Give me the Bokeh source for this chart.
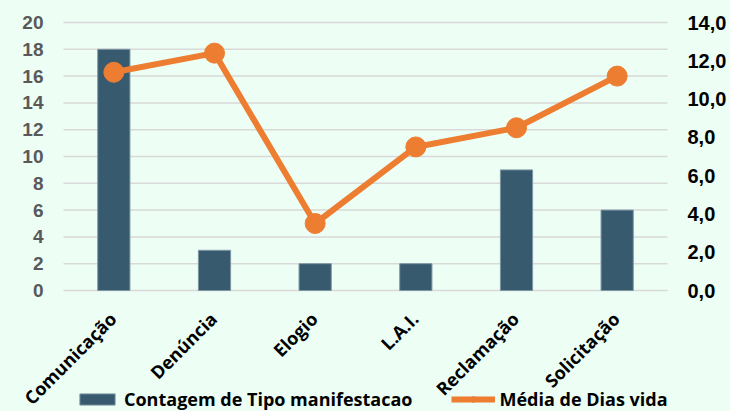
import math
from bokeh.plotting import figure
from bokeh.models import ColumnDataSource, Range1d, Legend, LegendItem
from bokeh.core.properties import value
from bokeh.embed import file_html
from bokeh.resources import INLINE

# ---- data ----
categorias = ["Comunicação", "Denúncia", "Elogio", "L.A.I.", "Reclamação", "Solicitação"]
contagem = [18, 3, 2, 2, 9, 6]
media_dias = [11.4, 12.4, 3.5, 7.5, 8.5, 11.2]
left_ticks = [0, 2, 4, 6, 8, 10, 12, 14, 16, 18, 20]
left_tick_labels = ["0", "2", "4", "6", "8", "10", "12", "14", "16", "18", "20"]
right_ticks = [0, 2, 4, 6, 8, 10, 12, 14]
right_tick_labels = ["0,0", "2,0", "4,0", "6,0", "8,0", "10,0", "12,0", "14,0"]
serie_barras = "Contagem de Tipo manifestacao"
serie_linha = "Média de Dias vida"

BG = "#EDFEF4"
BAR = "#375A6F"
ORANGE = "#ED7D31"
GRID = "#D9D9D9"

# ---- layout (pixels) ----
W, H = 730, 411
PLOT_L, PLOT_R = 63, 667      # category band
TOP, ZERO = 22, 290           # top value line / zero line
left_max, right_max = 20, 14
n = len(categorias)
ux = (PLOT_R - PLOT_L) / n
xs = list(range(n))
x_lo, x_hi = -0.5, n - 0.5
uy_l = (ZERO - TOP) / left_max
uy_r = (ZERO - TOP) / right_max

src = ColumnDataSource(dict(x=xs, cat=categorias, cnt=contagem, dias=media_dias,
                            base=[0] * n))

p = figure(width=W, height=H,
           x_range=Range1d(x_lo - PLOT_L / ux, x_hi + (W - PLOT_R) / ux),
           y_range=Range1d(-(H - ZERO) / uy_l, left_max + TOP / uy_l),
           x_axis_type=None, y_axis_type=None,
           output_backend="svg", toolbar_location=None,
           min_border_left=0, min_border_right=0, min_border_top=0,
           min_border_bottom=0)
p.extra_y_ranges = {"right": Range1d(-(H - ZERO) / uy_r, right_max + TOP / uy_r)}
p.background_fill_color = BG
p.border_fill_color = BG
p.outline_line_color = None
p.grid.visible = False

# gridlines at the left-axis ticks
p.segment(x0=[x_lo] * len(left_ticks), x1=[x_hi] * len(left_ticks),
          y0=left_ticks, y1=left_ticks, line_color=GRID, line_width=1.5)

bars = p.vbar(x="x", top="cnt", bottom=0, width=0.32, source=src,
              fill_color=BAR, line_color="#7F96A3", line_width=1)
line = p.line(x="x", y="dias", source=src, y_range_name="right",
              line_color=ORANGE, line_width=6)
pts = p.scatter(x="x", y="dias", source=src, y_range_name="right",
                size=20, fill_color=ORANGE, line_color=ORANGE)

# left tick labels
p.text(x=[x_lo] * len(left_ticks), y=left_ticks, text=left_tick_labels,
       x_offset=-20, text_align="right", text_baseline="middle",
       text_font=value("Liberation Sans"), text_font_style="bold",
       text_font_size="19px", text_color="#595959")
# right tick labels
p.text(x=[x_hi] * len(right_ticks), y=right_ticks, text=right_tick_labels,
       y_range_name="right", x_offset=20, text_align="left",
       text_baseline="middle", text_font=value("Liberation Sans"),
       text_font_style="bold", text_font_size="20px", text_color="#000000")
# category labels (rotated)
p.text(x="x", y="base", text="cat", source=src, angle=math.pi / 4,
       text_align="right", text_baseline="middle", x_offset=-1, y_offset=25,
       text_font=value("Open Sans"), text_font_style="bold",
       text_font_size="18px", text_color="#000000")

legend = Legend(items=[LegendItem(label=serie_barras, renderers=[bars]),
                       LegendItem(label=serie_linha, renderers=[line, pts])],
                orientation="horizontal", location=(75, 0),
                background_fill_alpha=0, border_line_color=None,
                label_text_font="Open Sans", label_text_font_style="bold",
                label_text_font_size="18px", label_text_color="#000000",
                glyph_width=44, glyph_height=14, label_standoff=5,
                spacing=38, padding=0, margin=0)
p.add_layout(legend, "center")

html = file_html(p, INLINE)
html = html.replace("<body>", '<body style="background-color:%s">' % BG)
open("out.html", "w").write(html)
